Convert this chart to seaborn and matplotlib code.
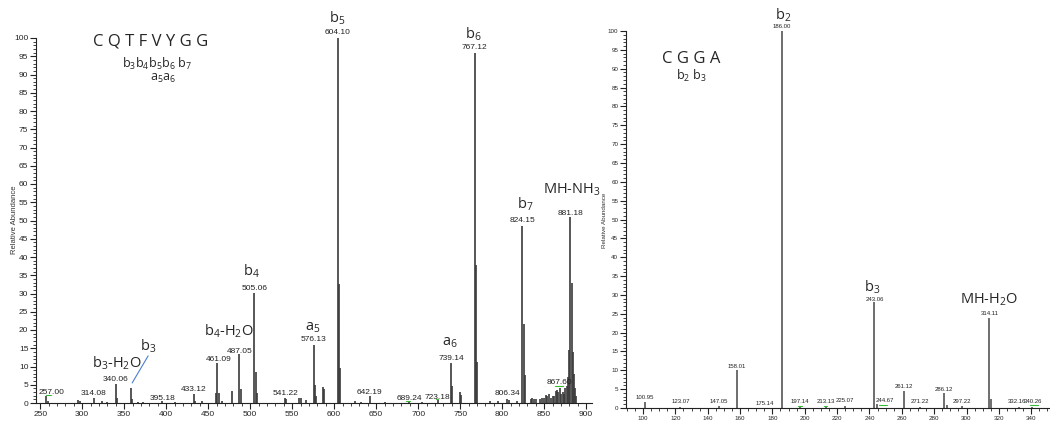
import matplotlib
matplotlib.use("Agg")
import matplotlib.pyplot as plt
import seaborn as sns
from matplotlib.ticker import MultipleLocator

# ---- left spectrum: CQTFVYGG ----
left_mz = [257.00, 259, 295, 297, 314.08, 323, 330, 340.06, 341.5, 358.2, 359.6, 366, 372,
           395.18, 410, 433.12, 434.5, 443, 459.8, 461.09, 462.5, 466, 478, 487.05, 488.8,
           505.06, 506.5, 507.8, 541.22, 543, 558, 560, 567, 576.13, 577.5, 578.8, 586.5, 587.8,
           604.10, 605.6, 607.0, 625, 632, 642.19, 660, 689.24, 705, 723.18, 739.14, 740.8,
           750, 751.3, 767.12, 768.6, 770.0, 785, 795, 806.34, 808, 818, 824.15, 825.6, 827.0,
           834, 836, 838, 840, 845, 848, 850, 852, 854, 856, 858, 860, 862, 864, 865.5,
           867, 868.5, 870, 872, 873.5, 875, 877, 878.5, 880, 881.18, 882.6, 884.0, 885.3,
           886.6, 888]
left_int = [2.0, 0.6, 0.7, 0.5, 1.5, 0.5, 0.4, 5.2, 1.5, 4.2, 1.0, 0.4, 0.3,
            0.5, 0.3, 2.5, 0.6, 0.6, 2.8, 11.0, 2.8, 0.5, 3.4, 13.4, 3.8,
            30.2, 8.5, 2.7, 1.5, 1.0, 1.5, 1.3, 0.8, 16.0, 5.0, 1.8, 4.5, 3.8,
            100.0, 32.6, 9.6, 0.5, 0.4, 2.0, 0.4, 0.3, 0.4, 0.8, 11.0, 4.6,
            3.0, 2.2, 96.0, 37.8, 11.3, 0.5, 0.5, 1.0, 0.8, 0.6, 48.5, 21.6, 7.7,
            1.0, 1.5, 1.2, 1.0, 1.0, 1.5, 1.5, 2.2, 1.8, 2.5, 1.5, 2.0, 1.8, 3.2, 3.6,
            3.0, 4.0, 2.5, 3.0, 2.5, 4.0, 4.6, 7.2, 14.5, 51.0, 33.0, 14.0, 8.0,
            4.0, 2.0]

left_lab_mz = [257.00, 314.08, 340.06, 395.18, 433.12, 461.09, 487.05, 505.06, 541.22,
               576.13, 604.10, 642.19, 689.24, 723.18, 739.14, 767.12, 806.34, 824.15,
               867.60, 881.18]
left_lab_y = [3.0, 2.7, 6.5, 1.2, 3.8, 12.0, 14.2, 31.5, 2.7,
              17.3, 101.4, 3.0, 1.1, 1.6, 12.3, 97.5, 2.7, 50.0,
              5.6, 52.0]
left_lab_x = [263, 314, 340, 396, 433, 462, 488, 505, 542,
              576, 604, 642, 689, 723, 739, 767, 806, 824,
              868, 881]

left_ions = ["b$_5$", "b$_6$", "b$_7$", "MH-NH$_3$", "a$_6$", "a$_5$", "b$_4$",
             "b$_4$-H$_2$O", "b$_3$-H$_2$O", "b$_3$"]
left_ion_x = [604, 766, 827, 883, 738, 575, 502, 475, 341, 378]
left_ion_y = [105.5, 101.0, 54.5, 58.4, 16.7, 20.8, 36.2, 19.7, 11.0, 15.6]

# ---- right spectrum: CGGA ----
right_mz = [100.95, 123.07, 147.05, 158.01, 175.14, 186.00, 197.14, 213.13, 225.07,
            243.06, 244.67, 261.12, 271.22, 286.12, 288, 297.22, 314.11, 315.1, 332.16, 340.26]
right_int = [1.5, 0.3, 0.4, 10.0, 0.1, 100.0, 0.2, 0.5, 0.6,
             28.0, 1.0, 4.6, 0.3, 4.0, 0.8, 0.5, 24.0, 2.5, 0.2, 0.2]
right_lab_x = [100.95, 123.07, 147.05, 158.01, 175.14, 186.00, 197.14, 213.13, 225.07,
               243.06, 249.5, 261.12, 271.22, 286.12, 297.22, 314.11, 331.0, 341.2]
right_lab_txt = ["100.95", "123.07", "147.05", "158.01", "175.14", "186.00", "197.14",
                 "213.13", "225.07", "243.06", "244.67", "261.12", "271.22", "286.12",
                 "297.22", "314.11", "332.16", "340.26"]
right_lab_y = [2.7, 1.6, 1.7, 11.0, 1.3, 101.1, 1.6, 1.6, 1.9,
               28.9, 1.9, 5.6, 1.6, 5.0, 1.8, 25.0, 1.8, 1.8]

right_ions = ["b$_2$", "b$_3$", "MH-H$_2$O"]
right_ion_x = [186.4, 241.8, 314.2]
right_ion_y = [104.2, 32.0, 28.8]

sns.set_style("ticks")
plt.rcParams["font.family"] = ["Liberation Sans", "DejaVu Sans"]
plt.rcParams["mathtext.fontset"] = "custom"
plt.rcParams["mathtext.rm"] = "Open Sans"
plt.rcParams["mathtext.default"] = "regular"

peak_col = "#3a3a3a"
ion_font = "Open Sans"

fig = plt.figure(figsize=(10.5, 4.21), dpi=100)
axl = fig.add_axes([36 / 1050, 1 - 403 / 421, 556 / 1050, 365 / 421])
axr = fig.add_axes([626 / 1050, 1 - 408 / 421, 423 / 1050, 377 / 421])

# left panel
axl.vlines(left_mz, 0, left_int, color=peak_col, lw=1.2)
axl.set_xlim(245, 907)
axl.set_ylim(0, 100)
axl.xaxis.set_major_locator(MultipleLocator(50))
axl.xaxis.set_minor_locator(MultipleLocator(10))
axl.yaxis.set_major_locator(MultipleLocator(5))
axl.yaxis.set_minor_locator(MultipleLocator(1))
axl.tick_params(which="major", length=4, width=0.8, labelsize=6, pad=1.5, color="#222222")
axl.tick_params(which="minor", length=2.5, width=0.6, color="#222222")
for mz, x, y in zip(left_lab_mz, left_lab_x, left_lab_y):
    axl.text(x, y, f"{mz:.2f}", fontsize=6, ha="center", va="center",
             color="#222222", clip_on=False)
for t, x, y in zip(left_ions, left_ion_x, left_ion_y):
    axl.text(x, y, t, fontsize=10.5, family=ion_font, ha="center", va="center", clip_on=False)
axl.plot([359.5, 378.5], [5.5, 12.9], color="#4a7fd0", lw=0.8)
axl.text(381, 99, "C Q T F V Y G G", fontsize=12, family=ion_font, ha="center", va="center")
axl.text(389, 93, "b$_3$b$_4$b$_5$b$_6$ b$_7$", fontsize=9, family=ion_font, ha="center", va="center")
axl.text(396, 88.8, "a$_5$a$_6$", fontsize=9, family=ion_font, ha="center", va="center")
for x0, x1, y in [(257, 263, 2.2), (686, 690, 0.6), (721, 724, 1.0), (863, 872, 4.6)]:
    axl.plot([x0, x1], [y, y], color="#33bb33", lw=0.8)

# right panel
axr.vlines(right_mz, 0, right_int, color="#555555", lw=1.2)
axr.set_xlim(89.5, 351)
axr.set_ylim(0, 100)
axr.xaxis.set_major_locator(MultipleLocator(20))
axr.xaxis.set_minor_locator(MultipleLocator(5))
axr.yaxis.set_major_locator(MultipleLocator(5))
axr.yaxis.set_minor_locator(MultipleLocator(1))
axr.tick_params(which="major", length=4, width=0.8, labelsize=4.5, pad=1.5, color="#222222")
axr.tick_params(which="minor", length=2.5, width=0.6, color="#222222")
for t, x, y in zip(right_lab_txt, right_lab_x, right_lab_y):
    axr.text(x, y, t, fontsize=4.3, ha="center", va="center", color="#222222", clip_on=False)
for t, x, y in zip(right_ions, right_ion_x, right_ion_y):
    axr.text(x, y, t, fontsize=10.5, family=ion_font, ha="center", va="center", clip_on=False)
axr.text(129.6, 92.6, "C G G A", fontsize=12, family=ion_font, ha="center", va="center")
axr.text(129.6, 88, "b$_2$ b$_3$", fontsize=9, family=ion_font, ha="center", va="center")
for x0, x1, y in [(196, 198, 0.6), (212, 214, 0.6), (246, 251, 0.9), (339, 344, 0.7)]:
    axr.plot([x0, x1], [y, y], color="#33bb33", lw=0.8)

sns.despine(ax=axl)
sns.despine(ax=axr)
for ax in (axl, axr):
    for s in ("left", "bottom"):
        ax.spines[s].set_linewidth(0.8)
        ax.spines[s].set_color("#222222")

fig.text(14 / 1050, 1 - 220 / 421, "Relative Abundance", rotation=90, fontsize=5.5,
         ha="center", va="center", color="#333333")
fig.text(604 / 1050, 1 - 220 / 421, "Relative Abundance", rotation=90, fontsize=4.5,
         ha="center", va="center", color="#333333")

fig.savefig("out.png", dpi=100)
